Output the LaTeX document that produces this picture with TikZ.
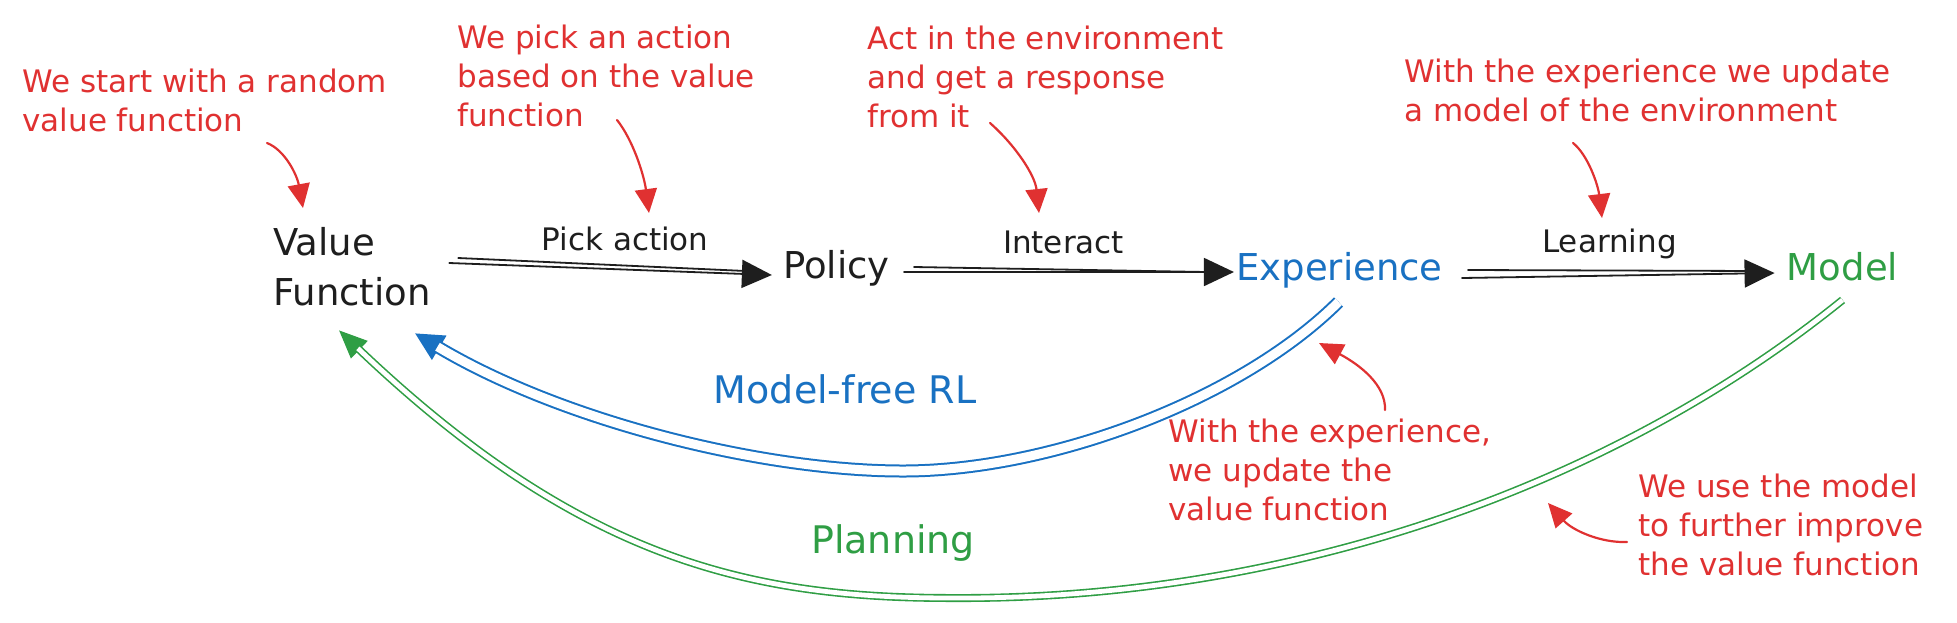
\documentclass[tikz,border=0pt]{standalone}
\usepackage{fontspec}
\setmainfont{DejaVu Sans}
\usetikzlibrary{arrows.meta}
\definecolor{exred}{HTML}{E03131}
\definecolor{exblue}{HTML}{1971C2}
\definecolor{exgreen}{HTML}{2F9E44}
\definecolor{exblack}{HTML}{1E1E1E}
\newcommand{\mlines}[1]{\begin{tabular}[t]{@{}l@{}}#1\end{tabular}}
\begin{document}
\begin{tikzpicture}[x=0.5pt,y=-0.5pt,
  redtxt/.style={font=\fontsize{15.5}{19.5}\selectfont, text=exred, inner sep=0pt, anchor=base west},
  blktxt/.style={font=\fontsize{18.5}{25}\selectfont, text=exblack, inner sep=0pt, anchor=base},
  lbltxt/.style={font=\fontsize{15.5}{19.5}\selectfont, text=exblack, inner sep=0pt, anchor=base},
  bigtxt/.style={font=\fontsize{19}{24}\selectfont, inner sep=0pt, anchor=base},
  blkline/.style={draw=exblack, line width=0.9pt, line cap=round},
  blkhead/.style={-{Triangle[length=15pt,width=14pt]}},
  redarr/.style={draw=exred, line width=1.1pt, line cap=round, -{Triangle[length=12pt,width=11pt]}},
  bluebase/.style={draw=exblue, line width=1pt, line cap=butt},
  greenbase/.style={draw=exgreen, line width=0.8pt, line cap=butt}
]
\fill[white] (0,0) rectangle (1957,622);
\useasboundingbox (0,0) rectangle (1957,622);

% red annotations
\node[redtxt] (n1) at (22,92) {\mlines{We start with a random\\value function}};
\node[redtxt] (n2) at (457,48) {\mlines{We pick an action\\based on the value\\function}};
\node[redtxt] (n3) at (867,49) {\mlines{Act in the environment\\and get a response\\from it}};
\node[redtxt] (n4) at (1404,82) {\mlines{With the experience we update\\a model of the environment}};
\node[redtxt] (n5) at (1168,442) {\mlines{With the experience,\\we update the\\value function}};
\node[redtxt] (n6) at (1638,497) {\mlines{We use the model\\to further improve\\the value function}};

% main nodes
\node[blktxt, anchor=base west] (vf) at (273,255) {\mlines{Value\\Function}};
\node[blktxt] (pol) at (836.5,278) {Policy};
\node[blktxt, text=exblue] (exp) at (1339.5,280) {Experience};
\node[blktxt, text=exgreen] (mod) at (1842.5,280) {Model};

% edge labels
\node[lbltxt] (l1) at (625,250) {Pick action};
\node[lbltxt] (l2) at (1063.5,253) {Interact};
\node[lbltxt] (l3) at (1609.5,252) {Learning};
\node[bigtxt, text=exblue] (mf) at (845,403) {Model-free RL};
\node[bigtxt, text=exgreen] (pl) at (893,553) {Planning};

% black arrows
\draw[blkline, blkhead] ([shift={(18,8)}]vf.base east) -- ([shift={(-11,-3)}]pol.base west);
\draw[blkline] ([shift={(27,3)}]vf.base east) -- ([shift={(-37,-7)}]pol.base west);
\draw[blkline, blkhead] ([shift={(14,-6)}]pol.base east) -- ([shift={(-2,-8)}]exp.base west);
\draw[blkline] ([shift={(24,-11)}]pol.base east) -- ([shift={(-30,-8)}]exp.base west);
\draw[blkline, blkhead] ([shift={(19,-2)}]exp.base east) -- ([shift={(-12,-7)}]mod.base west);
\draw[blkline] ([shift={(25,-10)}]exp.base east) -- ([shift={(-30,-9)}]mod.base west);

% blue model-free arrow
\draw[bluebase, -{Triangle[length=14pt,width=14pt]}] ([shift={(-1,22)}]exp.base) .. controls (1240,400) and (1050,471) .. (903,471) .. controls (760,471) and (560,420) .. ([shift={(-16,13)}]vf.south east);
\draw[bluebase, double=white, double distance=4.5pt, shorten >=13pt] ([shift={(-1,22)}]exp.base) .. controls (1240,400) and (1050,471) .. (903,471) .. controls (760,471) and (560,420) .. ([shift={(-16,13)}]vf.south east);

% green planning arrow
\draw[greenbase, -{Triangle[length=14pt,width=12pt]}] ([shift={(0,20)}]mod.base) .. controls (1620,480) and (1300,600) .. (952,598) .. controls (750,598) and (580,560) .. ([shift={(-13,10)}]vf.south);
\draw[greenbase, double=white, double distance=2.4pt, shorten >=13pt] ([shift={(0,20)}]mod.base) .. controls (1620,480) and (1300,600) .. (952,598) .. controls (750,598) and (580,560) .. ([shift={(-13,10)}]vf.south);

% red annotation arrows
\coordinate (r1a) at (267,143); \coordinate (r1b) at (303,208);
\coordinate (r2a) at (617,120); \coordinate (r2b) at (649,213);
\coordinate (r3a) at (990,123); \coordinate (r3b) at (1039,213);
\coordinate (r4a) at (1573,143); \coordinate (r4b) at (1602,218);
\coordinate (r5a) at (1385,410); \coordinate (r5b) at (1319,343);
\coordinate (r6a) at (1627,542); \coordinate (r6b) at (1548,503);
\draw[redarr] (r1a) .. controls (285,150) and (297,175) .. (r1b);
\draw[redarr] (r2a) .. controls (633,140) and (644,175) .. (r2b);
\draw[redarr] (r3a) .. controls (1015,145) and (1035,175) .. (r3b);
\draw[redarr] (r4a) .. controls (1588,155) and (1598,185) .. (r4b);
\draw[redarr] (r5a) .. controls (1386,385) and (1360,365) .. (r5b);
\draw[redarr] (r6a) .. controls (1600,543) and (1572,530) .. (r6b);
\end{tikzpicture}
\end{document}
